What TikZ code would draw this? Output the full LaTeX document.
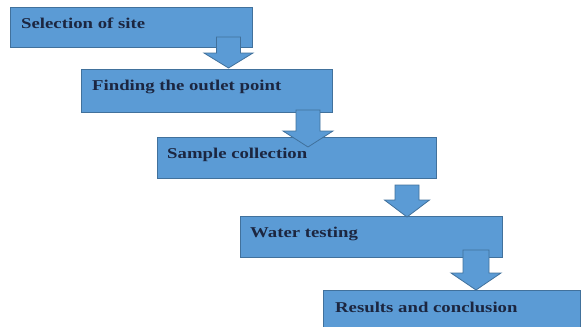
\documentclass[tikz,border=0pt]{standalone}
\usepackage{fontspec}
\setmainfont{Liberation Serif}
\definecolor{boxfill}{HTML}{5B9BD5}
\definecolor{boxline}{HTML}{41719C}
\definecolor{txt}{HTML}{1C2640}
\tikzset{
  stepbox/.style={draw=boxline, line width=0.8pt, fill=boxfill},
  lbl/.style={anchor=base west, inner sep=0pt, text=txt, font=\fontsize{15}{18}\selectfont\bfseries},
  blockarrow/.style={draw=boxline, line width=0.8pt, fill=boxfill, line join=miter}
}
% #1 name, #2 cx, #3 shaft half width, #4 head half width, #5 top, #6 head y, #7 tip y
\newcommand{\myarrow}[7]{%
  \draw[blockarrow] (#2-#3,#5) -- (#2+#3,#5) -- (#2+#3,#6) -- (#2+#4,#6) -- (#2,#7)
    coordinate (#1) -- (#2-#4,#6) -- (#2-#3,#6) -- cycle;}
\newcommand{\xs}[1]{\scalebox{1.25}[1]{#1}}
\begin{document}
\begin{tikzpicture}[x=1pt,y=-1pt]
\useasboundingbox (0,0) rectangle (582,327);
\begin{scope}
\clip (0,0) rectangle (582,327);
\draw[stepbox] (10,7) rectangle (252,47) coordinate (b1);
\draw[stepbox] (81,69) rectangle (332,112) coordinate (b2);
\draw[stepbox] (157,137) rectangle (436,178) coordinate (b3);
\draw[stepbox] (240,216) rectangle (502,257) coordinate (b4);
\draw[stepbox] (323,290) rectangle (580,335) coordinate (b5);
\end{scope}
\node[lbl] (t1) at (21,28) {\xs{Selection of site}};
\node[lbl] (t2) at (92,90) {\xs{Finding the outlet point}};
\node[lbl] (t3) at (167,158) {\xs{Sample collection}};
\node[lbl] (t4) at (250,237) {\xs{Water testing}};
\node[lbl] (t5) at (335,312) {\xs{Results and conclusion}};
\myarrow{a1}{228.5}{12}{24.5}{37}{53}{68}
\myarrow{a2}{308}{12}{25}{110}{131}{147}
\myarrow{a3}{407}{12}{22.5}{185}{200}{217}
\myarrow{a4}{476}{13}{25}{250}{273}{290}
\end{tikzpicture}
\end{document}
